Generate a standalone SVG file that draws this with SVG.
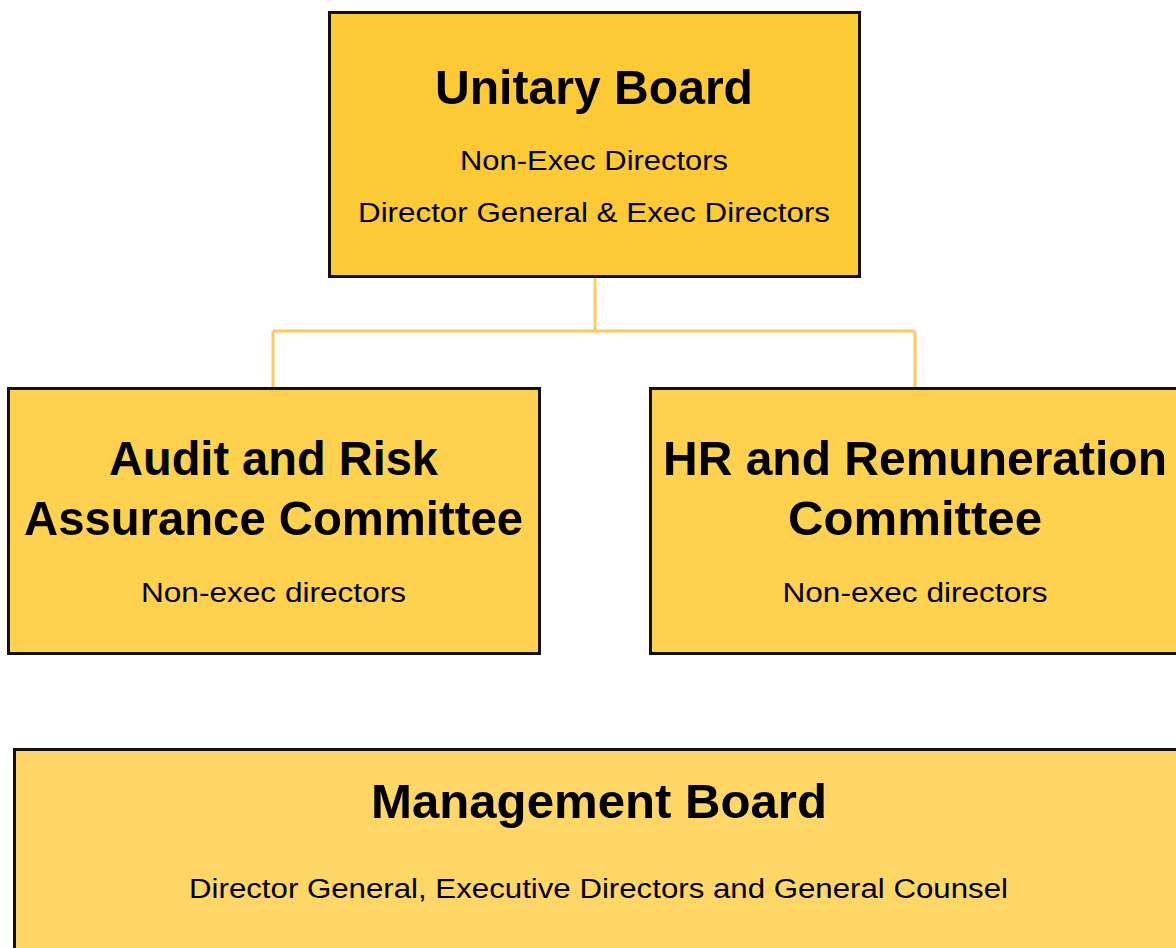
<svg xmlns="http://www.w3.org/2000/svg" width="1176" height="948" viewBox="0 0 1176 948">
<style>
.box{stroke:#111;stroke-width:3}
.t{font-family:"Liberation Sans",Arial,sans-serif;font-weight:bold;font-size:49px;fill:#000;text-anchor:middle}
.s{font-family:"Liberation Sans",Arial,sans-serif;font-size:27px;fill:#000;text-anchor:middle}
.c{fill:none;stroke:#FDCB5C;stroke-width:3}
</style>
<rect width="1176" height="948" fill="#fff"/>
<g id="connectors">
<path class="c" d="M595 277 V331 M273 331 H915 M273 331 V388 M915 331 V388"/>
</g>
<g id="unitary-board">
<rect class="box" x="329.5" y="12.5" width="530" height="264" fill="#FCCA35"/>
<text class="t" x="594" y="104" textLength="318" lengthAdjust="spacingAndGlyphs">Unitary Board</text>
<text class="s" x="594" y="170" textLength="268" lengthAdjust="spacingAndGlyphs">Non-Exec Directors</text>
<text class="s" x="594" y="222" textLength="472" lengthAdjust="spacingAndGlyphs">Director General &amp; Exec Directors</text>
</g>
<g id="audit-committee">
<rect class="box" x="8.5" y="388.5" width="531" height="265" fill="#FED24F"/>
<text class="t" x="273.5" y="475" textLength="329" lengthAdjust="spacingAndGlyphs">Audit and Risk</text>
<text class="t" x="273.5" y="535" textLength="499" lengthAdjust="spacingAndGlyphs">Assurance Committee</text>
<text class="s" x="273.5" y="602" textLength="265" lengthAdjust="spacingAndGlyphs">Non-exec directors</text>
</g>
<g id="hr-committee">
<rect class="box" x="650.5" y="388.5" width="540" height="265" fill="#FED24F"/>
<text class="t" x="915" y="475" textLength="504" lengthAdjust="spacingAndGlyphs">HR and Remuneration</text>
<text class="t" x="915" y="535" textLength="254" lengthAdjust="spacingAndGlyphs">Committee</text>
<text class="s" x="915" y="602" textLength="265" lengthAdjust="spacingAndGlyphs">Non-exec directors</text>
</g>
<g id="management-board">
<rect class="box" x="14.5" y="749.5" width="1180" height="220" fill="#FED766"/>
<text class="t" x="599" y="818" textLength="456" lengthAdjust="spacingAndGlyphs">Management Board</text>
<text class="s" x="598.5" y="898" textLength="819" lengthAdjust="spacingAndGlyphs">Director General, Executive Directors and General Counsel</text>
</g>
</svg>
